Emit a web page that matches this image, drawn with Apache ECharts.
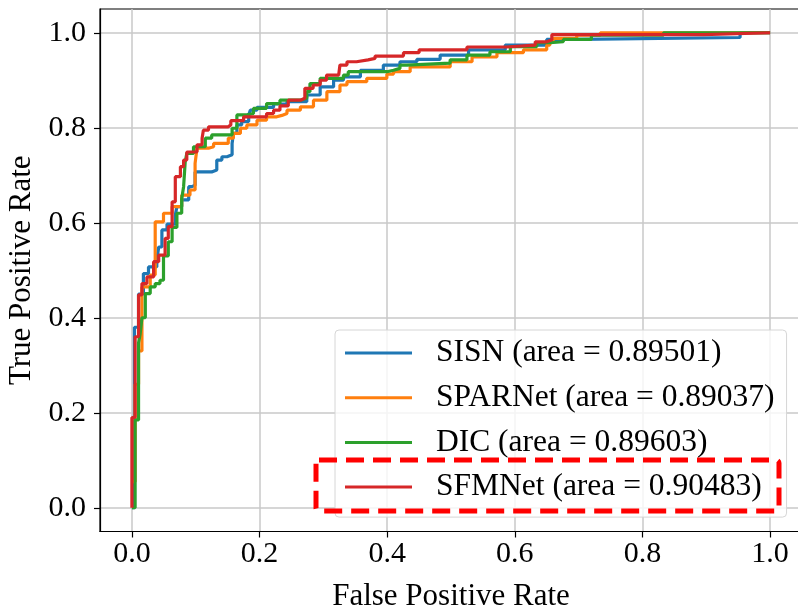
<!DOCTYPE html>
<html>
<head>
<meta charset="utf-8">
<script src="https://cdn.jsdelivr.net/npm/echarts@6/dist/echarts.min.js"></script>
<style>html,body{margin:0;padding:0;background:#fff}#c{width:798px;height:607px}</style>
</head>
<body>
<div id="c"></div>
<script>
const seriesNames = ['SISN (area = 0.89501)', 'SPARNet (area = 0.89037)', 'DIC (area = 0.89603)', 'SFMNet (area = 0.90483)'];
const tickValues = [0, 0.2, 0.4, 0.6, 0.8, 1.0];

const sisn = [[0,0],[0.004,0.38],[0.0104,0.45],[0.018,0.493],[0.026,0.507],[0.039,0.521],[0.042,0.549],[0.047,0.585],[0.055,0.597],[0.068,0.616],[0.0705,0.634],[0.078,0.648],[0.089,0.676],[0.094,0.679],[0.099,0.707],[0.125,0.711],[0.133,0.732],[0.141,0.739],[0.149,0.743],[0.157,0.767],[0.159,0.788],[0.1645,0.806],[0.172,0.813],[0.183,0.827],[0.1855,0.837],[0.196,0.843],[0.222,0.85],[0.243,0.855],[0.274,0.869],[0.295,0.886],[0.316,0.9],[0.3315,0.907],[0.358,0.921],[0.394,0.932],[0.42,0.939],[0.4465,0.944],[0.483,0.953],[0.5275,0.964],[0.585,0.974],[0.65,0.986],[0.7,0.99],[0.953,1.0],[1,1]];

const sparnet = [[0,0.055],[0.005,0.26],[0.0104,0.33],[0.0157,0.465],[0.0287,0.49],[0.0365,0.602],[0.0495,0.62],[0.063,0.634],[0.078,0.658],[0.091,0.669],[0.099,0.725],[0.102,0.757],[0.12,0.76],[0.128,0.767],[0.151,0.778],[0.159,0.788],[0.17,0.799],[0.18,0.806],[0.196,0.816],[0.211,0.823],[0.227,0.826],[0.235,0.83],[0.243,0.837],[0.264,0.844],[0.2845,0.858],[0.3055,0.876],[0.326,0.89],[0.337,0.897],[0.368,0.904],[0.3995,0.913],[0.41,0.918],[0.436,0.928],[0.4987,0.939],[0.533,0.949],[0.572,0.958],[0.6135,0.964],[0.65,0.974],[0.655,0.981],[0.66,0.988],[0.697,0.995],[0.734,1.0],[1,1]];

const dic = [[0,0],[0.005,0.185],[0.0104,0.347],[0.013,0.367],[0.0157,0.40],[0.021,0.451],[0.0287,0.465],[0.0365,0.472],[0.044,0.479],[0.0495,0.53],[0.057,0.56],[0.063,0.59],[0.0705,0.62],[0.078,0.65],[0.081,0.676],[0.0835,0.728],[0.086,0.746],[0.0965,0.76],[0.115,0.778],[0.125,0.785],[0.157,0.799],[0.1645,0.827],[0.18,0.83],[0.1905,0.841],[0.211,0.851],[0.232,0.858],[0.264,0.862],[0.274,0.876],[0.279,0.893],[0.295,0.904],[0.3315,0.911],[0.339,0.918],[0.3995,0.921],[0.41,0.925],[0.42,0.932],[0.431,0.936],[0.4987,0.943],[0.525,0.953],[0.561,0.96],[0.593,0.971],[0.6345,0.979],[0.655,0.981],[0.676,0.986],[0.72,0.995],[0.833,1.0],[1,1]];

const sfmnet = [[0,0],[0,0.19],[0.005,0.36],[0.0104,0.448],[0.0157,0.472],[0.0235,0.486],[0.034,0.518],[0.042,0.532],[0.052,0.567],[0.057,0.592],[0.063,0.644],[0.068,0.697],[0.076,0.718],[0.081,0.732],[0.086,0.749],[0.102,0.764],[0.11,0.778],[0.112,0.795],[0.12,0.802],[0.151,0.806],[0.155,0.815],[0.175,0.823],[0.211,0.83],[0.222,0.837],[0.232,0.846],[0.245,0.858],[0.264,0.862],[0.271,0.883],[0.284,0.89],[0.295,0.9],[0.305,0.911],[0.324,0.915],[0.326,0.932],[0.337,0.939],[0.352,0.943],[0.37,0.946],[0.381,0.951],[0.4255,0.958],[0.45,0.964],[0.525,0.97],[0.587,0.974],[0.632,0.981],[0.65,0.985],[0.658,0.996],[0.895,1.0],[1,1]];

const colors = ['#1f77b4', '#ff7f0e', '#2ca02c', '#d62728'];
const allData = [sisn, sparnet, dic, sfmnet];

const FONT = '"Liberation Serif", "Times New Roman", serif';
const chart = echarts.init(document.getElementById('c'));

function axisCommon(name, gap) {
  return {
    type: 'value', min: -0.05, max: 1.05,
    name: name, nameLocation: 'middle', nameGap: gap,
    nameTextStyle: { fontFamily: FONT, fontSize: 31, color: '#000' },
    axisLine: { show: true, onZero: false, lineStyle: { color: '#000', width: 1.2 } },
    axisTick: { show: true, length: 6, lineStyle: { color: '#000', width: 1.2 }, customValues: tickValues },
    axisLabel: { fontFamily: FONT, fontSize: 30, color: '#000', customValues: tickValues, formatter: v => v.toFixed(1) },
    splitLine: { show: true, lineStyle: { color: '#c8c8c8', width: 1.5 } }
  };
}

const xa = axisCommon('False Positive Rate', 50);
xa.axisLabel.margin = 8;
const ya = axisCommon('True Positive Rate', 60);
ya.axisLabel.margin = 14;

chart.setOption({
  animation: false,
  backgroundColor: '#fff',
  color: colors,
  grid: { left: 100, right: -4, top: 9, bottom: 75.5, outerBoundsMode: 'none', containLabel: false, show: true, borderColor: '#000', borderWidth: 1.2, backgroundColor: 'transparent' },
  xAxis: xa,
  yAxis: ya,
  legend: {
    orient: 'vertical', left: 335, top: 330,
    padding: [7, 12, 14, 10],
    icon: 'rect',
    itemWidth: 67, itemHeight: 3, itemGap: 12.7,
    backgroundColor: 'rgba(255,255,255,0.8)',
    borderColor: '#d6d6d6', borderWidth: 1, borderRadius: 4,
    textStyle: { fontFamily: FONT, fontSize: 31.5, color: '#000', lineHeight: 32, padding: [0, 0, 0, 19] },
    data: seriesNames
  },
  series: allData.map((d, i) => ({
    name: seriesNames[i], type: 'line', step: 'end', showSymbol: false, symbol: 'none',
    data: d, lineStyle: { width: 3.2, color: colors[i] }, itemStyle: { color: colors[i] },
    z: 2 + i
  })),
  graphic: [{
    type: 'rect', z: 100,
    shape: { x: 316, y: 460, width: 463, height: 51, r: 3 },
    style: { fill: 'none', stroke: '#ff0000', lineWidth: 5, lineDash: [18, 9] }
  }]
});
</script>
</body>
</html>
